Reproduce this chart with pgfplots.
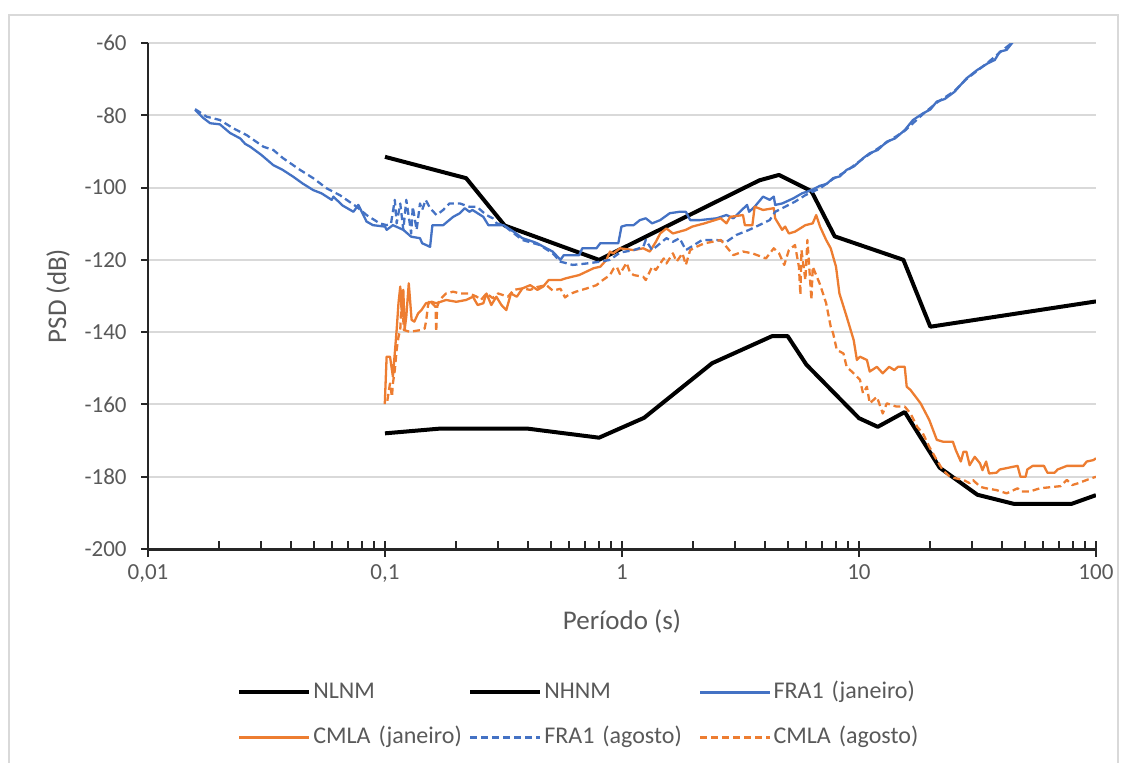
\documentclass[border=0pt]{standalone}
\usepackage{pgfplots}
\pgfplotsset{compat=1.18}
\usepackage{pgfplotstable}
\usepackage{fontspec}
\setmainfont{Carlito}

\definecolor{fraBlue}{HTML}{4472C4}
\definecolor{cmlaOrange}{HTML}{ED7D31}
\definecolor{labelGray}{HTML}{595959}
\definecolor{gridGray}{HTML}{D9D9D9}
\definecolor{axisDark}{HTML}{262626}

% Peterson new low / high noise models
\pgfplotstableread{
P dB
0.1 -168.0
0.17 -166.7
0.4 -166.7
0.8 -169.2
1.24 -163.7
2.4 -148.6
4.3 -141.1
5.0 -141.1
6.0 -149.0
10 -163.8
12 -166.2
15.6 -162.1
21.9 -177.5
31.6 -185.0
45 -187.5
79 -187.5
100 -185.1
}\nlnm

\pgfplotstableread{
P dB
0.1 -91.5
0.22 -97.4
0.32 -110.5
0.8 -120.0
3.8 -98.0
4.6 -96.5
6.3 -101.0
7.9 -113.5
15.4 -120.0
20 -138.5
100 -131.5
}\nhnm

% FRA1, January
\pgfplotstableread{
P dB
0.0158 -78.5
0.0170 -80.6
0.0183 -82.2
0.0201 -82.5
0.0222 -84.9
0.0245 -86.4
0.0257 -87.9
0.0270 -88.7
0.0300 -90.9
0.0338 -93.8
0.0370 -95.1
0.0410 -97.0
0.0450 -98.9
0.0498 -100.7
0.0540 -101.6
0.0596 -103.4
0.0606 -102.5
0.0660 -104.9
0.0736 -106.7
0.0772 -104.8
0.0836 -109.4
0.0890 -110.4
0.1000 -110.8
0.1016 -111.7
0.108 -110.4
0.1195 -111.7
0.129 -113.6
0.1405 -114.0
0.1435 -115.4
0.155 -116.4
0.1585 -110.4
0.176 -110.4
0.194 -108.1
0.207 -107.1
0.217 -105.7
0.227 -106.7
0.234 -106.2
0.26 -108.1
0.273 -110.4
0.296 -110.4
0.316 -110.4
0.349 -112.2
0.38 -114.0
0.423 -115.0
0.438 -115.4
0.48 -116.8
0.51 -117.7
0.55 -120.0
0.568 -118.7
0.66 -118.7
0.68 -116.8
0.78 -116.8
0.81 -115.4
0.965 -115.4
0.995 -110.8
1.046 -110.4
1.12 -110.4
1.19 -109.0
1.26 -108.5
1.34 -109.9
1.45 -109.0
1.59 -107.1
1.75 -106.7
1.86 -106.7
1.94 -109.0
2.13 -109.0
2.51 -108.5
2.76 -107.6
2.95 -108.5
3.37 -104.8
3.44 -106.7
3.63 -105.3
3.94 -102.5
4.2 -103.4
4.37 -102.5
4.43 -104.8
4.74 -104.4
5.28 -103.0
5.75 -101.6
6.3 -100.7
6.85 -99.5
7.3 -99.0
7.78 -97.4
8.3 -96.9
8.87 -95.1
9.5 -94.2
10.4 -91.9
11.1 -90.5
12.0 -89.6
13.1 -87.3
14.2 -86.4
15.6 -84.1
16.9 -81.3
18.6 -79.5
20.0 -78.4
21.3 -76.2
23.0 -75.5
25.3 -73.5
28.4 -69.8
31.5 -67.5
35.0 -65.6
37.4 -64.7
39.3 -62.4
42.0 -61.9
44.5 -59.8
}\fraJan

% CMLA, January
\pgfplotstableread{
P dB
0.0998 -159.9
0.1016 -146.8
0.105 -146.8
0.108 -152.3
0.112 -139.4
0.114 -132.0
0.116 -127.4
0.118 -135.7
0.1195 -128.3
0.121 -139.4
0.123 -135.7
0.126 -126.5
0.1295 -136.6
0.133 -137.1
0.138 -134.8
0.1425 -133.9
0.149 -132.0
0.1575 -131.6
0.1645 -132.0
0.181 -131.1
0.2 -131.6
0.22 -131.1
0.235 -130.2
0.246 -132.5
0.26 -132.0
0.268 -129.3
0.281 -132.5
0.295 -130.2
0.31 -132.5
0.325 -133.9
0.34 -129.3
0.36 -130.2
0.38 -127.9
0.41 -127.0
0.44 -128.3
0.465 -127.4
0.49 -125.6
0.55 -125.6
0.58 -125.1
0.66 -124.2
0.76 -122.3
0.81 -121.9
0.86 -120.0
0.89 -117.7
0.92 -118.2
0.98 -116.8
1.12 -117.3
1.23 -116.8
1.31 -117.7
1.39 -115.0
1.45 -112.7
1.54 -111.3
1.64 -112.7
1.86 -111.7
1.98 -110.8
2.23 -109.9
2.61 -108.5
2.76 -109.9
2.86 -108.1
3.24 -107.6
3.3 -110.4
3.55 -110.4
3.63 -105.3
3.94 -106.2
4.37 -105.7
4.43 -108.5
4.74 -111.7
4.88 -110.8
5.06 -112.7
5.37 -112.2
5.94 -110.4
6.38 -109.9
6.6 -107.6
6.85 -110.8
7.27 -114.5
7.6 -116.8
8.0 -121.9
8.27 -129.3
8.87 -135.7
9.5 -142.2
9.8 -147.7
10.1 -146.8
10.8 -147.7
11.1 -150.9
11.9 -149.6
12.6 -151.4
13.4 -149.6
14.1 -150.5
14.6 -149.6
15.6 -149.6
15.9 -155.1
16.5 -156.0
18.2 -159.7
19.8 -164.3
21.3 -169.8
22.6 -170.3
24.9 -170.3
25.6 -172.6
26.9 -175.8
27.6 -173.1
28.4 -173.1
29.3 -176.8
30.8 -174.5
32.4 -176.3
33.2 -178.2
34.4 -175.8
35.4 -179.1
38.0 -178.9
39.3 -178.0
46.7 -177.0
48.0 -180.0
50.5 -180.0
51.3 -178.0
54.1 -177.0
60.3 -177.0
62.4 -178.9
66.8 -178.9
68.9 -178.0
75.4 -177.0
88.4 -177.0
91.4 -175.8
97.5 -175.4
100 -174.9
}\cmlaJan

% FRA1, August
\pgfplotstableread{
P dB
0.0158 -78.3
0.0177 -80.4
0.0201 -81.3
0.0229 -83.6
0.0261 -85.5
0.0307 -88.7
0.0338 -89.6
0.0372 -91.9
0.0438 -95.1
0.0498 -97.4
0.0567 -100.2
0.0645 -102.1
0.0759 -105.3
0.0836 -107.6
0.095 -109.9
0.1016 -110.4
0.106 -110.0
0.110 -103.4
0.112 -109.9
0.116 -104.4
0.1195 -111.7
0.123 -103.4
0.129 -112.7
0.131 -105.3
0.136 -111.7
0.1405 -104.4
0.1435 -106.2
0.1485 -103.4
0.155 -105.7
0.165 -107.6
0.176 -106.2
0.187 -104.4
0.207 -104.4
0.227 -105.3
0.244 -105.3
0.268 -107.6
0.285 -108.5
0.296 -109.9
0.316 -110.4
0.38 -114.5
0.45 -115.9
0.51 -118.2
0.55 -120.5
0.62 -121.4
0.71 -121.0
0.81 -120.5
0.89 -120.0
0.98 -118.0
1.12 -117.3
1.23 -116.4
1.26 -114.5
1.34 -117.3
1.54 -114.0
1.64 -115.0
1.75 -114.0
1.86 -117.3
2.18 -114.5
2.51 -114.5
2.76 -115.0
3.04 -113.1
3.44 -111.7
3.79 -110.4
4.2 -109.0
4.43 -106.7
4.88 -105.3
5.37 -103.9
5.94 -102.1
6.85 -100.2
7.78 -97.6
8.87 -95.4
10.4 -92.0
13.1 -87.5
15.6 -84.3
18.6 -79.7
21.3 -76.5
25.3 -73.3
28.4 -70.0
31.5 -67.7
35.0 -65.4
39.3 -62.6
44.5 -59.8
}\fraAgo

% CMLA, August
\pgfplotstableread{
P dB
0.1023 -159.0
0.105 -154.2
0.107 -157.9
0.108 -154.2
0.11 -150.5
0.112 -144.9
0.114 -141.3
0.116 -139.4
0.118 -128.5
0.12 -139.4
0.127 -139.9
0.1425 -139.4
0.147 -139.0
0.149 -137.1
0.152 -132.5
0.155 -131.1
0.158 -132.0
0.1635 -133.0
0.1645 -139.9
0.166 -133.0
0.17 -131.1
0.181 -129.3
0.194 -128.8
0.207 -129.3
0.227 -129.3
0.244 -130.2
0.254 -131.1
0.268 -129.3
0.285 -130.6
0.3 -129.3
0.33 -130.2
0.35 -128.3
0.38 -127.9
0.41 -128.3
0.44 -127.5
0.48 -127.0
0.51 -128.5
0.55 -128.0
0.575 -130.4
0.6 -129.5
0.64 -128.8
0.71 -127.9
0.78 -127.0
0.83 -125.6
0.89 -124.2
0.92 -122.5
0.95 -121.9
0.98 -123.9
1.046 -120.8
1.08 -123.5
1.12 -124.2
1.23 -124.7
1.26 -125.6
1.34 -121.9
1.39 -122.8
1.5 -119.6
1.54 -121.0
1.64 -118.2
1.7 -120.5
1.8 -118.2
1.86 -121.4
1.94 -117.3
2.06 -116.4
2.23 -115.4
2.41 -115.0
2.61 -114.5
2.76 -116.4
2.95 -118.7
3.24 -117.7
3.55 -118.2
4.05 -119.6
4.37 -116.8
4.6 -118.2
4.84 -121.4
5.06 -117.3
5.37 -115.9
5.58 -121.9
5.66 -129.7
5.72 -117.3
5.94 -125.6
6.06 -114.5
6.3 -131.1
6.38 -121.9
6.85 -126.8
7.27 -132.0
7.6 -138.5
7.78 -140.3
8.06 -144.9
8.6 -145.9
8.87 -149.6
9.5 -151.4
10.1 -153.2
10.4 -156.9
10.8 -155.1
11.1 -159.7
11.9 -157.9
12.6 -162.5
13.1 -159.7
14.4 -160.6
15.6 -160.6
16.5 -162.5
17.6 -166.2
18.6 -168.0
19.8 -171.7
21.3 -175.4
22.6 -178.2
24.2 -180.0
25.8 -180.5
27.6 -180.9
29.3 -181.8
30.3 -180.9
32.4 -182.8
34.4 -183.2
38.0 -183.7
42.0 -184.6
46.7 -183.2
48.0 -184.1
52.5 -184.1
58.0 -183.2
64.2 -182.9
71.0 -182.6
75.4 -180.9
79.5 -182.3
84.1 -181.8
91.4 -180.9
100 -180.0
}\cmlaAgo

\begin{document}
\begin{tikzpicture}
\useasboundingbox (0,0) rectangle (566pt,381pt);
\draw[gridGray, line width=0.75pt] (4.5pt,-5pt) rectangle (559pt,373.5pt);

% data, y axis, grid and legend
\begin{axis}[
  at={(74pt,106.5pt)}, anchor=south west,
  scale only axis, width=474pt, height=253pt,
  xmode=log, xmin=0.01, xmax=100, ymin=-200, ymax=-60,
  axis x line=none, axis y line*=left,
  y axis line style={axisDark, line width=1pt},
  ytick={-200,-180,...,-60},
  ymajorgrids, major grid style={gridGray, line width=1pt},
  tick align=outside, major tick length=3.5pt,
  ytick style={axisDark, line width=1pt},
  /pgf/number format/assume math mode=true,
  yticklabel style={font=\fontsize{11.5}{13}\selectfont, text=labelGray, inner sep=0pt, xshift=-7pt},
  ylabel={PSD (dB)},
  ylabel style={at={(axis description cs:-0.0949,0.5)}, anchor=center, font=\fontsize{13.5}{15}\selectfont, text=labelGray},
  legend columns=3, legend cell align=left,
  legend style={at={(axis description cs:0.0938,-0.2609)}, anchor=north west,
    draw=none, fill=none, inner sep=0pt, row sep=11.5pt, column sep=1pt,
    font=\fontsize{12}{14}\selectfont, text=labelGray,
    nodes={text width=76.5pt, inner sep=0pt, text height=8.5pt, text depth=2.5pt}},
  legend image code/.code={\draw[#1] (0pt,0pt) -- (35pt,0pt);},
  every axis plot/.append style={line join=round},
]
\addplot[black, line width=2pt] table[x=P, y=dB] {\nlnm};
\addlegendentry{NLNM}
\addplot[black, line width=2pt] table[x=P, y=dB] {\nhnm};
\addlegendentry{NHNM}
\addplot[fraBlue, line width=1.15pt] table[x=P, y=dB] {\fraJan};
\addlegendentry{FRA1 (janeiro)}
\addplot[cmlaOrange, line width=1.15pt] table[x=P, y=dB] {\cmlaJan};
\addlegendentry{CMLA (janeiro)}
\addplot[fraBlue, line width=1.15pt, dash pattern=on 3.5pt off 2pt] table[x=P, y=dB] {\fraAgo};
\addlegendentry{FRA1 (agosto)}
\addplot[cmlaOrange, line width=1.15pt, dash pattern=on 3.5pt off 2pt] table[x=P, y=dB] {\cmlaAgo};
\addlegendentry{CMLA (agosto)}
\end{axis}

% logarithmic period axis
\begin{axis}[
  at={(74pt,106.5pt)}, anchor=south west,
  scale only axis, width=474pt, height=253pt,
  xmode=log, xmin=0.01, xmax=100, ymin=-200, ymax=-60,
  axis y line=none, axis x line*=bottom,
  x axis line style={axisDark, line width=1.5pt},
  xtick={0.01,0.1,1,10,100}, xticklabels={{0,01},{0,1},1,10,100},
  minor xtick={0.02,0.03,0.04,0.05,0.06,0.07,0.08,0.09,
               0.2,0.3,0.4,0.5,0.6,0.7,0.8,0.9,
               2,3,4,5,6,7,8,9,20,30,40,50,60,70,80,90},
  tick align=center, major tick length=7.5pt, minor tick length=4pt,
  xtick style={axisDark, line width=1pt},
  minor x tick style={yshift=2pt},
  xticklabel style={font=\fontsize{11.5}{13}\selectfont, text=labelGray, inner sep=0pt, yshift=-4pt},
  xlabel={Período (s)},
  xlabel style={at={(axis description cs:0.5,-0.1423)}, anchor=center, font=\fontsize{13.5}{15}\selectfont, text=labelGray},
]
\end{axis}
\end{tikzpicture}
\end{document}
